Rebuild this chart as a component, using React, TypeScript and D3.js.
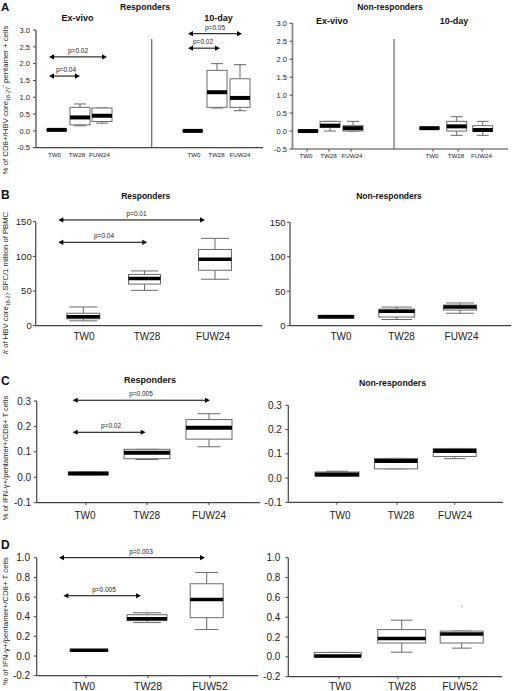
import React from "react";
import * as d3 from "d3";

// Box summaries: [lowWhisker, q1, median, q3, highWhisker]
const catsABC = ["TW0", "TW28", "FUW24"];
const catsD = ["TW0", "TW28", "FUW52"];

const aRespExVivo = [[0.02, 0.02, 0.03, 0.04, 0.04], [0.15, 0.18, 0.4, 0.7, 0.8], [0.23, 0.28, 0.45, 0.68, 0.68]];
const aResp10day = [[-0.01, -0.01, 0.0, 0.01, 0.01], [0.68, 0.7, 1.15, 1.8, 2.0], [0.6, 0.7, 0.98, 1.55, 1.97]];
const aNonExVivo = [[-0.01, -0.01, 0.0, 0.02, 0.02], [0.0, 0.1, 0.15, 0.27, 0.27], [0.0, 0.0, 0.08, 0.15, 0.27]];
const aNon10day = [[0.07, 0.07, 0.08, 0.09, 0.09], [-0.12, 0.0, 0.13, 0.27, 0.4], [-0.12, 0.0, 0.03, 0.15, 0.27]];

const bResp = [[7, 10, 13, 18, 27], [51, 60, 68, 74, 79], [67, 80, 96, 110, 126]];
const bNon = [[11, 11, 13, 15, 15], [9, 12.6, 21, 24, 27], [18, 22.7, 27, 30, 33]];

const cResp = [[0.01, 0.01, 0.015, 0.02, 0.02], [0.07, 0.073, 0.096, 0.11, 0.11], [0.12, 0.15, 0.195, 0.227, 0.25]];
const cNon = [[0.008, 0.008, 0.015, 0.025, 0.028], [0.038, 0.038, 0.07, 0.081, 0.081], [0.08, 0.089, 0.112, 0.122, 0.122]];

const dResp = [[0.05, 0.05, 0.06, 0.065, 0.065], [0.34, 0.36, 0.38, 0.42, 0.44], [0.27, 0.39, 0.575, 0.735, 0.85]];
const dNon = [[0.0, 0.0, 0.01, 0.045, 0.045], [0.047, 0.14, 0.185, 0.275, 0.37], [0.088, 0.14, 0.23, 0.26, 0.26]];
const dNonOutlier = [0.51];

const ticksA = [-0.5, 0, 0.5, 1.0, 1.5, 2.0, 2.5, 3.0];
const ticksB = [0, 50, 100, 150];
const ticksC = [-0.1, 0, 0.1, 0.2, 0.3];
const ticksD = [-0.2, 0, 0.2, 0.4, 0.6, 0.8, 1.0];

const pLabelsA = ["p=0.04", "p=0.02", "p=0.02", "p=0.05"];
const pValuesA = [1.63, 2.2, 2.46, 2.89];
const pLabelsB = ["p=0.04", "p=0.01"];
const pValuesB = [120.3, 152.5];
const pLabelsC = ["p=0.02", "p=0.005"];
const pValuesC = [0.177, 0.303];
const pLabelsD = ["p=0.005", "p=0.003"];
const pValuesD = [0.613, 1.0];

const FONT = "'Liberation Sans', Arial, Helvetica, sans-serif";
const AXIS = "#444";
const BOXC = "#6a6a6a";

const f1 = (v: number) => v.toFixed(1);
const f0 = (v: number) => String(v);

interface Group { xs: number[]; widths: number[]; data: number[][]; labelXs: number[]; tickXs?: number[]; cats: string[] }
interface Arrow { x1: number; x2: number; v: number; label: string; lx: number }
interface PanelCfg {
  domain: [number, number]; range: [number, number];
  axisX: number; axisEnd: number; ticks: number[]; fmt: (v: number) => string;
  tickFont: number; tickGap: number; groups: Group[];
  labelY: number; labelFont: number; xTicks: boolean; capFrac: number;
  dividers: { x: number; y1: number }[]; arrows: Arrow[]; pFont: number;
  medianW: number; outliers?: { x: number; v: number }[]; axisW?: number; axisCol?: string;
}

function Panel({ c }: { c: PanelCfg }) {
  const y = d3.scaleLinear().domain(c.domain).range(c.range);
  const bottom = c.range[0];
  const top = c.range[1];
  const ac = c.axisCol || AXIS;
  return (
    <g fontFamily={FONT}>
      {c.dividers.map((d, i) => (
        <line key={"dv" + i} x1={d.x} x2={d.x} y1={d.y1} y2={bottom} stroke="#666" strokeWidth={1.2} />
      ))}
      {c.groups.map((g, gi) =>
        g.data.map((b, i) => {
          const cx = g.xs[i];
          const w = g.widths[i];
          const cw = w * c.capFrac;
          const [lo, q1, med, q3, hi] = b;
          return (
            <g key={"b" + gi + "-" + i}>
              <line x1={cx} x2={cx} y1={y(hi)} y2={y(q3)} stroke={BOXC} strokeWidth={1} />
              <line x1={cx} x2={cx} y1={y(q1)} y2={y(lo)} stroke={BOXC} strokeWidth={1} />
              <line x1={cx - cw / 2} x2={cx + cw / 2} y1={y(hi)} y2={y(hi)} stroke={BOXC} strokeWidth={1} />
              <line x1={cx - cw / 2} x2={cx + cw / 2} y1={y(lo)} y2={y(lo)} stroke={BOXC} strokeWidth={1} />
              <rect x={cx - w / 2} y={y(q3)} width={w} height={Math.max(0.5, y(q1) - y(q3))} fill="#fff" stroke={BOXC} strokeWidth={1} />
              <line x1={cx - w / 2} x2={cx + w / 2} y1={y(med)} y2={y(med)} stroke="#000" strokeWidth={c.medianW} />
            </g>
          );
        })
      )}
      {(c.outliers || []).map((o, i) => (
        <circle key={"o" + i} cx={o.x} cy={y(o.v)} r={0.8} fill="#999" />
      ))}
      <line x1={c.axisX} x2={c.axisX} y1={top} y2={bottom} stroke={ac} strokeWidth={c.axisW || 1.2} />
      <line x1={c.axisX} x2={c.axisEnd} y1={bottom} y2={bottom} stroke={AXIS} strokeWidth={1.2} />
      {c.ticks.map((t, i) => (
        <g key={"t" + i}>
          <line x1={c.axisX - 3} x2={c.axisX} y1={y(t)} y2={y(t)} stroke={AXIS} strokeWidth={1} />
          <text x={c.axisX - c.tickGap} y={y(t)} dy="0.36em" textAnchor="end" fontSize={c.tickFont} fill="#222">
            {c.fmt(t)}
          </text>
        </g>
      ))}
      {c.groups.map((g, gi) =>
        g.cats.map((cat, i) => (
          <g key={"xl" + gi + "-" + i}>
            {c.xTicks && (
              <line x1={(g.tickXs || g.labelXs)[i]} x2={(g.tickXs || g.labelXs)[i]} y1={bottom} y2={bottom + 2.5} stroke={AXIS} strokeWidth={1} />
            )}
            <text x={g.labelXs[i]} y={c.labelY} textAnchor="middle" fontSize={c.labelFont} fill="#222">
              {cat}
            </text>
          </g>
        ))
      )}
      {c.arrows.map((a, i) => {
        const ay = y(a.v);
        const hl = 5, hh = 2.6;
        return (
          <g key={"a" + i}>
            <line x1={a.x1 + 2} x2={a.x2 - 2} y1={ay} y2={ay} stroke="#000" strokeWidth={1} />
            <polygon points={`${a.x1},${ay} ${a.x1 + hl},${ay - hh} ${a.x1 + hl},${ay + hh}`} fill="#000" />
            <polygon points={`${a.x2},${ay} ${a.x2 - hl},${ay - hh} ${a.x2 - hl},${ay + hh}`} fill="#000" />
            <text x={a.lx} y={ay - 4} textAnchor="middle" fontSize={c.pFont} fill="#222">
              {a.label}
            </text>
          </g>
        );
      })}
    </g>
  );
}

const mkArrows = (xs: [number, number][], vs: number[], labels: string[], lxs: number[]): Arrow[] =>
  xs.map((x, i) => ({ x1: x[0], x2: x[1], v: vs[i], label: labels[i], lx: lxs[i] }));

const panels: PanelCfg[] = [
  {
    domain: [-0.5, 3], range: [147.7, 30], axisX: 36, axisEnd: 263, ticks: ticksA, fmt: f1,
    tickFont: 7.5, tickGap: 6,
    groups: [
      { xs: [56.7, 80, 102], widths: [20, 20, 20], data: aRespExVivo, labelXs: [54.5, 77, 99.5], cats: catsABC },
      { xs: [192.7, 217, 240], widths: [20, 20, 20], data: aResp10day, labelXs: [194, 216.5, 240], cats: catsABC },
    ],
    labelY: 156.5, labelFont: 6.2, xTicks: false, capFrac: 0.6,
    dividers: [{ x: 151.7, y1: 39 }],
    arrows: mkArrows([[49, 80], [49, 107], [188, 220], [188, 242]], pValuesA, pLabelsA, [66, 78, 203, 215]),
    pFont: 6.5, medianW: 4,
  },
  {
    domain: [-0.5, 3], range: [149, 23.3], axisX: 292.5, axisEnd: 508, ticks: ticksA, fmt: f1,
    tickFont: 7.5, tickGap: 5.5,
    groups: [
      { xs: [308, 330, 353], widths: [20, 20, 20], data: aNonExVivo, labelXs: [306, 328.5, 352], tickXs: [307, 329, 351], cats: catsABC },
      { xs: [429.5, 456.7, 482.7], widths: [20, 20, 20], data: aNon10day, labelXs: [432, 456, 481.5], tickXs: [433, 458, 482], cats: catsABC },
    ],
    labelY: 157.5, labelFont: 6.2, xTicks: true, capFrac: 0.6,
    dividers: [{ x: 394, y1: 39 }],
    arrows: [], pFont: 6.5, medianW: 4, axisW: 1.8, axisCol: "#888",
  },
  {
    domain: [0, 150], range: [325.7, 221.7], axisX: 35.7, axisEnd: 262, ticks: ticksB, fmt: f0,
    tickFont: 9.5, tickGap: 4,
    groups: [{ xs: [83.3, 144.5, 215], widths: [33, 32, 33], data: bResp, labelXs: [84, 147, 213], cats: catsABC }],
    labelY: 339.5, labelFont: 10, xTicks: false, capFrac: 0.85,
    dividers: [],
    arrows: mkArrows([[58.3, 147.3], [58.3, 205]], pValuesB, pLabelsB, [104, 136.5]),
    pFont: 6.5, medianW: 3.5,
  },
  {
    domain: [0, 150], range: [325.7, 222.3], axisX: 290, axisEnd: 511, ticks: ticksB, fmt: f0,
    tickFont: 9.5, tickGap: 4.5,
    groups: [{ xs: [336, 396.7, 460], widths: [36, 36, 33], data: bNon, labelXs: [341, 401.5, 461.5], cats: catsABC }],
    labelY: 339.5, labelFont: 10, xTicks: false, capFrac: 0.85,
    dividers: [], arrows: [], pFont: 6.5, medianW: 3.5,
  },
  {
    domain: [-0.1, 0.3], range: [502.7, 401], axisX: 36.7, axisEnd: 260, ticks: ticksC, fmt: f1,
    tickFont: 10, tickGap: 5.5,
    groups: [{ xs: [88.3, 147, 209], widths: [40, 46, 46], data: cResp, labelXs: [85, 146.7, 209], tickXs: [86, 147, 209], cats: catsABC }],
    labelY: 518.5, labelFont: 10, xTicks: true, capFrac: 0.5,
    dividers: [],
    arrows: mkArrows([[72.7, 145.7], [72.7, 210]], pValuesC, pLabelsC, [111, 141]),
    pFont: 6.5, medianW: 4,
  },
  {
    domain: [-0.1, 0.3], range: [502.3, 405.3], axisX: 288.3, axisEnd: 503, ticks: ticksC, fmt: f1,
    tickFont: 10, tickGap: 6.5,
    groups: [{ xs: [337, 396, 454.7], widths: [44, 43, 43], data: cNon, labelXs: [340, 401, 455], tickXs: [337, 397, 454.7], cats: catsABC }],
    labelY: 518.5, labelFont: 10, xTicks: true, capFrac: 0.5,
    dividers: [], arrows: [], pFont: 6.5, medianW: 4,
  },
  {
    domain: [-0.2, 1.0], range: [675.7, 557.7], axisX: 36.7, axisEnd: 258, ticks: ticksD, fmt: f1,
    tickFont: 10, tickGap: 6.5,
    groups: [{ xs: [89, 147, 206.7], widths: [38, 40, 33], data: dResp, labelXs: [84, 148, 210], tickXs: [86, 148, 210], cats: catsD }],
    labelY: 690, labelFont: 10.5, xTicks: true, capFrac: 0.7,
    dividers: [],
    arrows: mkArrows([[63.3, 141], [59, 205]], pValuesD, pLabelsD, [104, 141]),
    pFont: 6.5, medianW: 3.5,
  },
  {
    domain: [-0.2, 1.0], range: [676.7, 557.7], axisX: 288.3, axisEnd: 502, ticks: ticksD, fmt: f1,
    tickFont: 10, tickGap: 8,
    groups: [{ xs: [337.7, 401.7, 461.7], widths: [47, 48, 43], data: dNon, labelXs: [340, 402, 460], tickXs: [339, 398, 459], cats: catsD }],
    labelY: 690, labelFont: 10.5, xTicks: true, capFrac: 0.45,
    dividers: [], arrows: [], pFont: 6.5, medianW: 3.5,
    outliers: dNonOutlier.map((v) => ({ x: 461.7, v })),
  },
];

const titles: { t: string; x: number; y: number; s: number; anchor?: string }[] = [
  { t: "A", x: 1, y: 10.5, s: 11.5, anchor: "start" },
  { t: "B", x: 1, y: 198.5, s: 12, anchor: "start" },
  { t: "C", x: 1, y: 385, s: 12, anchor: "start" },
  { t: "D", x: 1, y: 549, s: 12, anchor: "start" },
  { t: "Responders", x: 145, y: 9.5, s: 8.7 },
  { t: "Non-responders", x: 390, y: 9.5, s: 8.5 },
  { t: "Ex-vivo", x: 77.5, y: 20.7, s: 9 },
  { t: "10-day", x: 218.5, y: 20.7, s: 9 },
  { t: "Ex-vivo", x: 332, y: 24, s: 9 },
  { t: "10-day", x: 454, y: 24, s: 9 },
  { t: "Responders", x: 145.7, y: 199, s: 8.5 },
  { t: "Non-responders", x: 389, y: 199, s: 8.5 },
  { t: "Responders", x: 150, y: 383, s: 9 },
  { t: "Non-responders", x: 392.5, y: 386, s: 8.7 },
];

function YLabel({ cx, cy, size, parts }: { cx: number; cy: number; size: number; parts: { t: string; k?: "sub" | "sup" }[] }) {
  let shift = 0;
  return (
    <text transform={`translate(${cx},${cy}) rotate(-90)`} textAnchor="middle" fontSize={size} fontFamily={FONT} fill="#222">
      {parts.map((p, i) => {
        const target = p.k === "sub" ? size * 0.3 : p.k === "sup" ? -size * 0.35 : 0;
        const dy = target - shift;
        shift = target;
        return (
          <tspan key={i} dy={dy} fontSize={p.k ? size * 0.7 : size}>
            {p.t}
          </tspan>
        );
      })}
    </text>
  );
}

export default function App() {
  return (
    <svg width={512} height={691} style={{ position: "absolute", left: 0, top: 0, background: "#fff" }} fontFamily={FONT}>
      <rect width={512} height={691} fill="#fff" />
      {panels.map((p, i) => (
        <Panel key={i} c={p} />
      ))}
      {titles.map((t, i) => (
        <text key={i} x={t.x} y={t.y} fontSize={t.s} fontWeight="bold" textAnchor={t.anchor || "middle"} fill="#111">
          {t.t}
        </text>
      ))}
      <YLabel cx={8} cy={100} size={7.8} parts={[{ t: "% of CD8+/HBV core" }, { t: "18-27", k: "sub" }, { t: "-", k: "sup" }, { t: " pentamer + cells" }]} />
      <YLabel cx={8} cy={283} size={7.7} parts={[{ t: "# of HBV core" }, { t: "18-27", k: "sub" }, { t: " SFC/1 million of PBMC" }]} />
      <YLabel cx={8} cy={458} size={7.6} parts={[{ t: "% of IFN-γ+/pentamer+/CD8+ T cells" }]} />
      <YLabel cx={8} cy={621} size={7.8} parts={[{ t: "% of IFN-γ+/pentamer+/CD8+ T cells" }]} />
    </svg>
  );
}
